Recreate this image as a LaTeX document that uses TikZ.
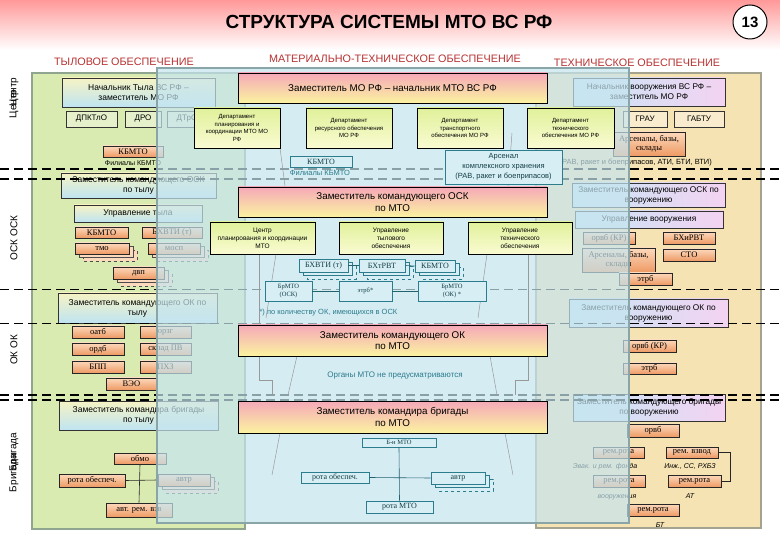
\documentclass[tikz,border=0pt]{standalone}
\usepackage{fontspec}
\setmainfont{Liberation Sans}
\newfontfamily\srf{Liberation Serif}
\definecolor{pnlgreen}{HTML}{DAEBB2}
\definecolor{pnlgreenD}{HTML}{8FA58F}
\definecolor{pnlorange}{HTML}{F6E3B4}
\definecolor{pnlorangeD}{HTML}{A3A38F}
\definecolor{pnlblue}{HTML}{C6E5EF}
\definecolor{pnlblueD}{HTML}{8AA5A8}
\definecolor{hdrred}{HTML}{B83232}
\definecolor{mteal}{HTML}{2B7C8C}
\definecolor{tealfill}{HTML}{D6EEF4}
\definecolor{orT}{HTML}{FCD9BC}
\definecolor{orB}{HTML}{EE9A64}
\definecolor{pkT}{HTML}{F5A8B8}
\definecolor{pkB}{HTML}{FBF3A0}
\definecolor{ygT}{HTML}{E0F19A}
\definecolor{ygB}{HTML}{FAFBD2}
\definecolor{lhT}{HTML}{F6F3C4}
\definecolor{lhB}{HTML}{BFE4F2}
\definecolor{rhL}{HTML}{C6E6F5}
\definecolor{rhR}{HTML}{F3D3F2}
\newcommand{\bx}[7]{%
 \pgfmathsetmacro{\bxcx}{(#3+#5)/2}\pgfmathsetmacro{\bxcy}{(#4+#6)/2}%
 \pgfmathsetmacro{\bxww}{#5-#3}\pgfmathsetmacro{\bxhh}{#6-#4}%
 \node[#1, minimum width=\bxww pt, minimum height=\bxhh pt, inner sep=0pt] (#2) at (\bxcx,\bxcy) {#7};}
\newcommand{\stk}[8]{%
 \draw[#8, dashed] (#3+8,#4+7) rectangle (#5+8,#6+7);
 \draw[#8] (#3+4,#4+3.5) rectangle (#5+4,#6+3.5);
 \bx{#1}{#2}{#3}{#4}{#5}{#6}{#7}}
\begin{document}
\begin{tikzpicture}[x=1pt,y=-1pt,
 pinkbox/.style={draw=black, line width=0.7pt, top color=pkT, bottom color=pkB, align=center, font=\fontsize{9.8}{11.5}\selectfont},
 dept/.style={draw=black, line width=0.6pt, top color=ygT, bottom color=ygB, align=center, font=\fontsize{6}{7.5}\selectfont},
 orbox/.style={draw=black!85, line width=0.6pt, top color=orT, bottom color=orB, align=center, font=\srf\fontsize{8.5}{9}\selectfont},
 orback/.style={draw=black!70, line width=0.5pt, fill=orT},
 tlbox/.style={draw=mteal, line width=0.6pt, fill=tealfill, text=mteal!50!black, align=center, font=\srf\fontsize{8}{9}\selectfont},
 tlback/.style={draw=mteal, line width=0.5pt, fill=tealfill},
 lhead/.style={draw=black!80, line width=0.6pt, top color=lhT, bottom color=lhB, align=center, font=\fontsize{8.5}{10}\selectfont},
 rhead/.style={draw=black!80, line width=0.6pt, left color=rhL, right color=rhR, align=center, font=\fontsize{8.3}{10}\selectfont},
 wbox/.style={draw=black!80, line width=0.6pt, fill=white, fill opacity=0.35, text opacity=1, font=\fontsize{8}{9}\selectfont},
 lvl/.style={rotate=90, font=\fontsize{10}{10}\selectfont},
 hdr/.style={text=hdrred, font=\fontsize{10.8}{12}\selectfont},
 itl/.style={font=\itshape\fontsize{7}{8}\selectfont},
 tltext/.style={text=mteal, font=\fontsize{7.5}{8}\selectfont},
 lvline/.style={draw=black, dash pattern=on 9pt off 5pt, line width=1.4pt},
 lvthin/.style={draw=black, dash pattern=on 9pt off 5pt, line width=0.9pt},
 conn/.style={draw=black!85, line width=0.6pt},
 tconn/.style={draw=mteal!80!black, line width=0.6pt},
 thinl/.style={draw=gray!80, line width=0.5pt}]
\useasboundingbox (0,0) rectangle (780,540);
\fill[white] (0,0) rectangle (780,540);
% title band
\shade[top color=pink!80!red, bottom color=white] (0,0) rectangle (780,50);
\node[font=\bfseries\fontsize{19}{22}\selectfont] (title) at (389,22) {СТРУКТУРА СИСТЕМЫ МТО ВС РФ};
\node[circle, draw=black, line width=1pt, fill=white, minimum size=34pt, inner sep=0pt, font=\bfseries\fontsize{15}{16}\selectfont] (num) at (750,22) {13};
% headers
\node[hdr] (h1) at (124,62) {ТЫЛОВОЕ ОБЕСПЕЧЕНИЕ};
\node[hdr] (h2) at (395,59) {МАТЕРИАЛЬНО-ТЕХНИЧЕСКОЕ ОБЕСПЕЧЕНИЕ};
\node[hdr] (h3) at (637,63) {ТЕХНИЧЕСКОЕ ОБЕСПЕЧЕНИЕ};
% level labels
\node[lvl] (lc1) at (14,104) {Центр};
\node[lvl] (lc2) at (14,92) {Центр};
\node[lvl] (losk) at (14,238) {ОСК ОСК};
\node[lvl] (lok) at (14,350) {ОК ОК};
\node[lvl] (lbr1) at (14,473) {Бригада};
\node[lvl] (lbr2) at (14,452) {Бригада};
% side panels
\draw[pnlgreenD, fill=pnlgreen, line width=1.5pt] (32,73) rectangle (245,529);
\draw[pnlorangeD, fill=pnlorange, line width=1.5pt] (536,73) rectangle (761,528);
% ---------- left column
\bx{lhead}{nt}{62}{78}{215}{107}{Начальник Тыла ВС РФ –\\заместитель МО РФ}
\bx{wbox}{dpk}{66}{111}{117}{127}{ДПКТлО}
\bx{wbox}{dro}{125}{111}{161}{127}{ДРО}
\bx{wbox}{dtro}{167}{111}{207}{127}{ДТрО}
\bx{orbox}{kbl}{103}{146}{163}{157}{КБМТО}
\node[font=\fontsize{7}{8}\selectfont] (fkl) at (133,163) {Филиалы КБМТО};
\bx{lhead}{zosk}{61}{173}{216}{198}{Заместитель командующего ОСК\\по тылу}
\bx{lhead}{ut}{74}{205}{202}{222}{Управление тыла}
\bx{orbox}{kb2}{75}{227}{128}{238}{КБМТО}
\bx{orbox}{bh}{142}{227}{202}{238}{БХВТИ (т)}
\stk{orbox}{tmo}{75}{243}{129}{254}{тмо}{orback}
\stk{orbox}{mosp}{148}{243}{200}{254}{мосп}{orback}
\stk{orbox}{dvp}{113}{267}{164}{279}{двп}{orback}
\bx{lhead}{zok}{58}{293}{217}{323}{Заместитель командующего ОК по\\тылу}
\bx{orbox}{b1}{72}{326}{124}{338}{оатб}
\bx{orbox}{b2}{72}{343}{124}{355}{ордб}
\bx{orbox}{b3}{72}{361}{124}{373}{БПП}
\bx{orbox}{r1}{140}{326}{191}{338}{орзг}
\bx{orbox}{r2}{140}{343}{191}{355}{склад ПВ}
\bx{orbox}{r3}{140}{361}{191}{373}{ПХЗ}
\bx{orbox}{veo}{106}{378}{157}{390}{ВЭО}
\bx{lhead}{zbr}{59}{401}{218}{430}{Заместитель командира бригады\\по тылу}
\bx{orbox}{obmo}{114}{453}{166}{464}{обмо}
\bx{orbox}{rol}{59}{474}{125}{487}{рота обеспеч.}
\stk{orbox}{avtrl}{158}{474}{210}{486}{автр}{orback}
\bx{orbox}{arv}{106}{503}{172}{517}{авт. рем. взв}
\draw[conn] (obmo.south) -- (arv.north);
\draw[conn] (rol.east) -- (avtrl.west);
% ---------- right column
\bx{rhead}{nv}{573}{78}{725}{106}{Начальник вооружения ВС РФ –\\заместитель МО РФ}
\bx{wbox}{grau}{623}{111}{667}{127}{ГРАУ}
\bx{wbox}{gabtu}{674}{111}{724}{127}{ГАБТУ}
\bx{orbox}{ars1}{613}{132}{685}{156}{Арсеналы, базы,\\склады}
\node[anchor=west, font=\fontsize{7.5}{8}\selectfont] (ravt) at (556,163) {(РАВ, ракет и боеприпасов, АТИ, БТИ, ВТИ)};
\bx{rhead}{zoskv}{572}{183}{725}{207}{Заместитель командующего ОСК по\\вооружению}
\bx{rhead}{uv}{575}{211}{723}{228}{Управление вооружения}
\bx{orbox}{orvb}{583}{232}{635}{244}{орвб (КР)}
\bx{orbox}{bhirvt}{663}{232}{715}{244}{БХиРВТ}
\bx{orbox}{ars2}{582}{248}{655}{272}{Арсеналы, базы,\\склады}
\bx{orbox}{sto}{663}{249}{715}{261}{СТО}
\bx{orbox}{etrb}{619}{273}{672}{285}{этрб}
\bx{rhead}{zokv}{569}{299}{728}{327}{Заместитель командующего ОК по\\вооружению}
\bx{orbox}{orvb2}{623}{340}{676}{352}{орвб (КР)}
\bx{orbox}{etrb2}{623}{363}{676}{374}{этрб}
\bx{rhead}{zbrv}{573}{394}{725}{421}{Заместитель командующего бригады\\по вооружению}
\bx{orbox}{rvb}{627}{424}{679}{437}{орвб}
\bx{orbox}{rr1}{593}{447}{644}{458}{рем.рота}
\bx{orbox}{rv}{666}{447}{718}{458}{рем. взвод}
\bx{orbox}{rr2}{593}{475}{645}{487}{рем.рота}
\bx{orbox}{rr3}{668}{475}{721}{487}{рем.рота}
\bx{orbox}{rr4}{627}{504}{679}{516}{рем.рота}
\node[itl] (t1) at (605,467) {Эвак. и рем. фонда};
\node[itl] (t2) at (690,467) {Инж., СС, РХБЗ};
\node[itl] (t3) at (617,497) {вооружения};
\node[itl] (t4) at (690,496) {АТ};
\node[itl] (t5) at (660,525) {БТ};
\coordinate (rvc) at (730,452.5);
\draw[conn] (rv.east) -- (rvc) |- (rr3.east);
% ---------- level dashed lines
\foreach \yy in {169,179,395,400}{\draw[lvline] (0,\yy) -- (780,\yy);}
\foreach \yy in {289,323}{\draw[lvthin] (0,\yy) -- (780,\yy);}
% ---------- middle translucent panel
\draw[pnlblueD, fill=pnlblue, fill opacity=0.7, line width=1.5pt] (157,68) rectangle (629,523);
% funnel lines
\draw[thinl] (280,148) -- (285,186);
\draw[thinl] (512,133) -- (508,186);
\draw[thinl] (259,254) -- (259,380) -- (272,380) -- (272,395);
\draw[thinl] (528,254) -- (528,380) -- (515,380) -- (515,395);
\draw[thinl] (276,254) -- (266,318);
\draw[thinl] (487,254) -- (478,318);
\draw[thinl] (297,356) -- (288,395);
\draw[thinl] (490,356) -- (497,395);
\draw[thinl] (280,433) -- (272,475);
\draw[thinl] (505,433) -- (513,475);
% ---------- centre column
\bx{pinkbox}{zmo}{238}{73}{547}{103}{Заместитель МО РФ – начальник МТО ВС РФ}
\bx{dept}{d1}{194}{108}{280}{148}{Департамент\\планирования и\\координации МТО МО\\РФ}
\bx{dept}{d2}{306}{108}{392}{148}{Департамент\\ресурсного обеспечения\\МО РФ}
\bx{dept}{d3}{417}{108}{503}{148}{Департамент\\транспортного\\обеспечения МО РФ}
\bx{dept}{d4}{527}{108}{614}{148}{Департамент\\технического\\обеспечения МО РФ}
\bx{tlbox}{kbc}{290}{156}{352}{167}{КБМТО}
\node[tltext] (fkc) at (320,173) {Филиалы КБМТО};
\bx{tlbox,font=\fontsize{7.5}{10}\selectfont}{arsc}{445}{150}{562}{184}{Арсенал\\комплексного хранения\\(РАВ, ракет и боеприпасов)}
\bx{pinkbox}{zoskc}{238}{187}{547}{217}{Заместитель командующего ОСК\\по МТО}
\bx{dept,font=\fontsize{6.5}{8}\selectfont}{c1}{210}{222}{315}{254}{Центр\\планирования и координации\\МТО}
\bx{dept,font=\fontsize{6.5}{8}\selectfont}{c2}{339}{222}{443}{254}{Управление\\тылового\\обеспечения}
\bx{dept,font=\fontsize{6.5}{8}\selectfont}{c3}{468}{222}{572}{254}{Управление\\технического\\обеспечения}
\stk{tlbox}{bhc}{299}{259}{348}{272}{БХВТИ (т)}{tlback}
\stk{tlbox}{bhrc}{359}{259}{405}{272}{БХтРВТ}{tlback}
\stk{tlbox}{kbc2}{415}{260}{455}{272}{КБМТО}{tlback}
\draw[tconn] (bhc.east) -- (bhrc.west);
\draw[tconn] (bhrc.east) -- (kbc2.west);
\bx{tlbox,font=\srf\fontsize{6.5}{7.5}\selectfont}{brm1}{265}{281}{312}{301}{БрМТО\\(ОСК)}
\bx{tlbox,font=\srf\fontsize{6.5}{7.5}\selectfont}{etrbc}{339}{281}{392}{301}{этрб*}
\bx{tlbox,font=\srf\fontsize{6.5}{7.5}\selectfont}{brm2}{418}{281}{486}{301}{БрМТО\\(ОК) *}
\draw[tconn] (brm1.east) -- (etrbc.west);
\draw[tconn] (etrbc.east) -- (brm2.west);
\node[tltext, anchor=west] (note) at (256,313) {*) по количеству ОК, имеющихся в ОСК};
\bx{pinkbox}{zokc}{238}{325}{547}{356}{Заместитель командующего ОК\\по МТО}
\node[tltext, font=\fontsize{8}{9}\selectfont] (nomto) at (395,376) {Органы МТО не предусматриваются};
\bx{pinkbox}{zbrc}{238}{401}{547}{433}{Заместитель командира бригады\\по МТО}
\bx{tlbox,font=\srf\fontsize{6.5}{7}\selectfont}{bnm}{362}{438}{436}{447}{Б-н МТО}
\bx{tlbox}{roc}{301}{472}{369}{483}{рота обеспеч.}
\stk{tlbox}{avtrc}{431}{472}{485}{484}{автр}{tlback}
\bx{tlbox}{rmto}{366}{501}{433}{513}{рота МТО}
\draw[tconn] (bnm.south) -- (rmto.north);
\draw[tconn] (roc.east) -- (avtrc.west);
\end{tikzpicture}
\end{document}
